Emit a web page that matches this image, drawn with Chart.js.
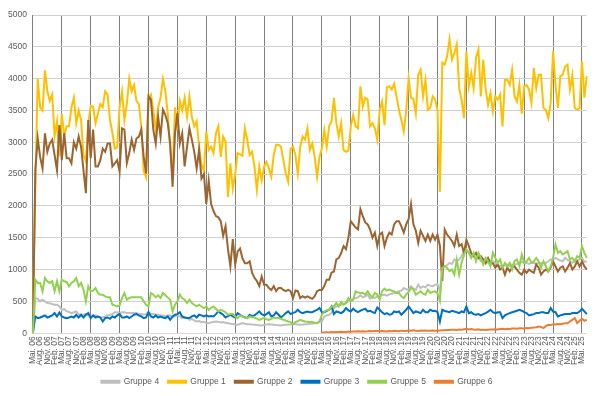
<!DOCTYPE html>
<html>
<head>
<meta charset="utf-8">
<script src="https://cdn.jsdelivr.net/npm/chart.js@4.4.1/dist/chart.umd.min.js"></script>
<style>
  html, body { margin: 0; padding: 0; background: #fff; }
  #wrap { width: 600px; height: 396px; }
</style>
</head>
<body>
<div id="wrap"><canvas id="chart"></canvas></div>
<script>
// monthly values, Mai 06 .. Jul 25 (one row = Mai..Apr)
const monthNames = ['Jan.', 'Feb.', 'Mrz.', 'Apr.', 'Mai.', 'Jun.', 'Jul.', 'Aug.', 'Sep.', 'Okt.', 'Nov.', 'Dez.'];
const startYear = 2006;
const startMonth = 4; // Mai

const gruppe4 = [
  0, 553, 540, 500, 526, 500, 474, 470, 458, 447, 447, 421,
  368, 380, 342, 332, 316, 330, 342, 300, 290, 290, 300, 280,
  263, 270, 280, 263, 247, 250, 263, 280, 290, 300, 330, 330,
  316, 330, 330, 316, 316, 316, 316, 316, 300, 300, 290, 300,
  330, 300, 300, 290, 290, 280, 280, 263, 280, 280, 247, 270,
  280, 263, 237, 247, 247, 210, 226, 200, 184, 190, 174, 180,
  165, 158, 170, 175, 184, 178, 170, 174, 165, 158, 150, 145,
  138, 132, 145, 158, 150, 142, 140, 135, 132, 128, 125, 121,
  130, 135, 142, 138, 132, 128, 125, 121, 128, 132, 132, 138,
  140, 142, 138, 132, 135, 140, 142, 148, 150, 158, 165, 175,
  184, 263, 280, 290, 316, 395, 421, 430, 447, 460, 474, 500,
  526, 540, 553, 563, 595, 563, 580, 605, 542, 563, 553, 580,
  595, 600, 605, 590, 610, 620, 632, 645, 658, 668, 710, 690,
  684, 737, 700, 684, 763, 710, 737, 720, 763, 747, 737, 760,
  774, 658, 1026, 1052, 1068, 1105, 1089, 1158, 1131, 1158, 1210, 1290,
  1316, 1263, 1237, 1210, 1158, 1210, 1131, 1131, 1158, 1105, 1131, 1131,
  1105, 1052, 1060, 1052, 1068, 1079, 1052, 1079, 1079, 1089, 1105, 1121,
  1105, 1105, 1089, 1105, 1105, 1089, 1105, 1105, 1105, 1105, 1131, 1158,
  1158, 1184, 1160, 1142, 1131, 1184, 1150, 1131, 1105, 1131, 1131, 1158,
  1184, 1121, 1131
];

const gruppe1 = [
  300, 2300, 4000, 3550, 3500, 4130, 3800, 3650, 3750, 3100, 3330, 2780,
  3450, 3100, 3250, 3250, 3550, 3700, 3300, 3500, 3350, 2800, 2700, 3300,
  3570, 3560, 3300, 3450, 3600, 3550, 3800, 3750, 3350, 3150, 2900, 2920,
  3550, 3800, 3350, 3600, 4000, 3800, 3900, 3650, 3600, 3250, 2550, 2450,
  3700, 3750, 3500, 3200, 3550, 3700, 4000, 3800, 3450, 2900, 2450, 3550,
  3200, 3650, 3500, 3700, 3400, 3720, 3400, 3250, 3330, 2930, 2650, 2550,
  3170, 2880, 2930, 2830, 3140, 3250, 2770, 3090, 3010, 2140, 2670, 2270,
  2500, 2830, 2810, 2790, 3220, 3040, 2800, 2850, 2620, 2250, 2620, 2400,
  2620, 2690, 2590, 2460, 2800, 2960, 2960, 2930, 2720, 2510, 2380, 2900,
  2930, 2800, 2510, 2930, 3090, 3040, 3220, 2880, 2980, 2770, 2460, 2770,
  2900, 3190, 2930, 3250, 3330, 3700, 3300, 3090, 3300, 2880, 2850, 2870,
  3250, 3430, 3250, 3220, 3880, 3560, 3700, 3670, 3250, 3300, 3220, 3040,
  3510, 3640, 3270, 3870, 3880, 3830, 3920, 3720, 3510, 3350, 3170, 3500,
  4000, 3700, 3680, 3450, 4060, 4140, 3720, 3980, 3510, 3540, 3720, 3670,
  3510, 2220, 4250, 4220, 4350, 4620, 4300, 4400, 4540, 3850, 3670, 3380,
  4430, 3880, 4090, 3850, 4330, 4460, 3720, 4300, 3830, 3590, 3770, 3480,
  3720, 3670, 3750, 3250, 3980, 3980, 3900, 4140, 3720, 3640, 3900, 3450,
  3880, 3900, 3830, 3620, 4170, 3850, 4060, 4060, 3540, 3510, 3380, 3620,
  4430, 3900, 3540, 4040, 4060, 4190, 4220, 3830, 4050, 3540, 3510, 3540,
  4270, 3700, 4040
];

const gruppe2 = [
  0, 2560, 3060, 2770, 2590, 3140, 2850, 2980, 3040, 2800, 2560, 3270,
  2720, 3140, 2750, 2750, 2670, 3000, 2900, 3090, 2930, 2560, 2200, 3350,
  2750, 3200, 2620, 2620, 2720, 2900, 2850, 2980, 2980, 2620, 2670, 2720,
  2540, 3220, 3200, 2670, 2830, 3040, 2880, 3060, 3090, 3200, 2770, 2510,
  3720, 3670, 3200, 2980, 3400, 3090, 3510, 3430, 3300, 2980, 2300, 3140,
  3460, 2980, 3140, 2620, 2930, 3220, 3040, 2850, 2590, 2880, 2430, 2500,
  2030, 2400, 2030, 1920, 1840, 1820, 1760, 1530, 1680, 1320, 1050, 1480,
  1080, 1280, 1330, 1180, 1100, 1100, 1130, 950, 870, 820, 740, 890,
  760, 760, 710, 680, 740, 660, 710, 710, 680, 660, 680, 660,
  550, 670, 660, 550, 580, 560, 580, 560, 540, 580, 660, 680,
  680, 740, 840, 840, 950, 970, 1160, 1180, 1260, 1370, 1320, 1500,
  1760, 1710, 1660, 1630, 1950, 1840, 1740, 1710, 1630, 1500, 1580, 1370,
  1550, 1580, 1370, 1500, 1580, 1550, 1710, 1760, 1760, 1680, 1580, 1710,
  1790, 2030, 1710, 1610, 1420, 1610, 1530, 1450, 1550, 1450, 1550, 1470,
  1550, 1370, 820, 1630, 1550, 1500, 1450, 1370, 1550, 1370, 1400, 1260,
  1470, 1370, 1260, 1210, 1260, 1180, 1210, 1160, 1100, 1180, 1100, 1100,
  1030, 1080, 1000, 1030, 920, 1030, 970, 1030, 1050, 1000, 950, 920,
  1000, 950, 1000, 970, 950, 1080, 1030, 920, 970, 1000, 970, 1030,
  1130, 1050, 970, 1030, 1050, 970, 1030, 1100, 1000, 1050, 1130, 1050,
  1130, 1050, 1000
];

const gruppe3 = [
  0, 263, 237, 247, 263, 280, 247, 263, 280, 316, 263, 326,
  263, 247, 237, 247, 263, 247, 290, 247, 290, 247, 290, 316,
  237, 280, 247, 263, 247, 184, 237, 247, 226, 263, 247, 280,
  300, 247, 247, 263, 237, 263, 290, 300, 280, 263, 237, 247,
  330, 263, 247, 280, 247, 263, 247, 237, 263, 210, 263, 290,
  300, 330, 263, 247, 237, 237, 263, 280, 247, 290, 280, 263,
  280, 263, 270, 263, 300, 342, 316, 290, 247, 270, 290, 263,
  247, 316, 290, 263, 250, 237, 290, 270, 280, 310, 342, 300,
  280, 300, 330, 263, 280, 330, 290, 247, 280, 316, 342, 300,
  320, 330, 368, 330, 316, 330, 342, 330, 330, 350, 368, 395,
  330, 330, 350, 368, 421, 300, 342, 330, 316, 342, 395, 360,
  342, 384, 350, 330, 353, 370, 384, 342, 353, 330, 316, 405,
  368, 330, 300, 316, 290, 300, 342, 330, 342, 290, 330, 368,
  421, 370, 316, 342, 330, 316, 368, 330, 330, 368, 350, 353,
  330, 184, 368, 350, 342, 330, 353, 340, 330, 316, 342, 330,
  421, 316, 330, 300, 290, 300, 280, 300, 316, 340, 368, 330,
  316, 330, 330, 237, 280, 300, 316, 330, 342, 353, 368, 353,
  330, 316, 280, 290, 300, 316, 316, 330, 330, 316, 316, 395,
  340, 330, 263, 280, 290, 300, 300, 300, 316, 316, 316, 340,
  384, 342, 300
];

const gruppe5 = [
  0, 842, 790, 790, 658, 868, 816, 790, 816, 658, 816, 658,
  842, 816, 805, 737, 790, 816, 868, 737, 790, 684, 500, 737,
  658, 668, 710, 632, 605, 605, 579, 563, 563, 447, 437, 421,
  437, 553, 632, 526, 553, 563, 563, 563, 563, 563, 500, 447,
  421, 632, 605, 563, 595, 553, 632, 595, 563, 526, 342, 447,
  500, 605, 553, 526, 474, 526, 474, 447, 421, 447, 420, 395,
  421, 368, 400, 421, 384, 342, 368, 350, 330, 290, 300, 300,
  263, 237, 280, 260, 247, 237, 263, 250, 247, 230, 210, 226,
  237, 220, 210, 226, 247, 237, 237, 226, 210, 200, 184, 174,
  142, 174, 190, 210, 195, 184, 180, 174, 174, 165, 158, 184,
  290, 342, 360, 368, 421, 421, 474, 421, 490, 447, 474, 553,
  500, 526, 658, 640, 632, 632, 605, 658, 600, 563, 632, 605,
  526, 658, 700, 668, 684, 668, 658, 632, 632, 580, 553, 605,
  650, 710, 684, 605, 632, 658, 620, 605, 684, 632, 650, 658,
  630, 510, 1026, 1052, 1026, 974, 1000, 921, 1158, 921, 1105, 1237,
  1316, 1263, 1184, 1263, 1131, 1263, 1184, 1079, 1184, 1131, 1052, 1263,
  1184, 1105, 1158, 1026, 1105, 1052, 1105, 1000, 1131, 1158, 1052, 1237,
  1105, 1131, 1184, 1105, 1131, 1184, 1131, 1026, 1131, 1052, 974, 1052,
  1184, 1395, 1263, 1290, 1237, 1263, 1290, 1158, 1184, 1131, 1210, 1184,
  1368, 1263, 1184
];

// Gruppe 6 starts Mai 16 (index 120)
const gruppe6Start = 120;
const gruppe6Values = [
  10, 12, 15, 12, 18, 15, 20, 18, 22, 20, 18, 25,
  22, 28, 25, 30, 26, 32, 28, 30, 35, 30, 33, 36,
  30, 35, 32, 26, 34, 30, 38, 35, 30, 40, 36, 34,
  42, 38, 45, 40, 36, 42, 38, 44, 40, 37, 42, 39,
  37, 44, 48, 45, 52, 50, 53, 56, 52, 58, 55, 62,
  68, 60, 64, 58, 55, 60, 52, 56, 50, 55, 60, 58,
  62, 60, 65, 68, 64, 70, 66, 72, 75, 70, 79, 76,
  74, 80, 78, 85, 89, 95, 105, 98, 80, 110, 132, 128,
  142, 138, 145, 142, 150, 158, 155, 184, 210, 237, 158, 195,
  226, 195, 210
];
const gruppe6 = new Array(gruppe6Start).fill(null).concat(gruppe6Values);

const labels = gruppe1.map((_, i) => {
  const m = startMonth + i;
  const year = startYear + Math.floor(m / 12);
  return monthNames[m % 12] + ' ' + String(year % 100).padStart(2, '0');
});

const seriesNames = ['Gruppe 4', 'Gruppe 1', 'Gruppe 2', 'Gruppe 3', 'Gruppe 5', 'Gruppe 6'];
const seriesData = [gruppe4, gruppe1, gruppe2, gruppe3, gruppe5, gruppe6];
const seriesColors = ['#bfbfbf', '#ffc000', '#9c6430', '#0070c0', '#92d050', '#ed7d31'];

const FONT = "'Liberation Sans', Arial, sans-serif";

new Chart(document.getElementById('chart'), {
  type: 'line',
  data: {
    labels,
    datasets: seriesNames.map((name, k) => ({
      label: name,
      data: seriesData[k],
      borderColor: seriesColors[k],
      backgroundColor: seriesColors[k],
      borderWidth: 2,
      pointRadius: 0,
      tension: 0,
      fill: false,
      spanGaps: false,
      order: seriesNames.length - k  // later series drawn on top
    }))
  },
  options: {
    responsive: true,
    maintainAspectRatio: false,
    animation: false,
    layout: { padding: { top: 15, right: 8, left: 2, bottom: 0 } },
    plugins: {
      tooltip: { enabled: false },
      legend: {
        position: 'bottom',
        labels: {
          boxWidth: 18,
          boxHeight: 2,
          padding: 9,
          color: '#595959',
          font: { family: FONT, size: 8.5 },
          sort: (a, b) => a.datasetIndex - b.datasetIndex
        }
      }
    },
    scales: {
      x: {
        ticks: {
          autoSkip: false,
          minRotation: 90,
          maxRotation: 90,
          padding: 3,
          color: '#595959',
          font: { family: FONT, size: 8.5 },
          callback: function (val, i) { return i % 3 === 0 ? this.getLabelForValue(val) : ''; }
        },
        grid: {
          drawTicks: false,
          color: ctx => (ctx.index % 12 === 0 ? '#7f7f7f' : 'rgba(0,0,0,0)'),
          lineWidth: 1
        },
        border: { color: '#d9d9d9' }
      },
      y: {
        min: 0,
        max: 5000,
        ticks: {
          stepSize: 500,
          padding: 6,
          color: '#595959',
          font: { family: FONT, size: 8.5 },
          callback: v => String(v)
        },
        grid: { color: '#d0d0d0', lineWidth: 1, drawTicks: false },
        border: { display: false }
      }
    }
  }
});
</script>
</body>
</html>
